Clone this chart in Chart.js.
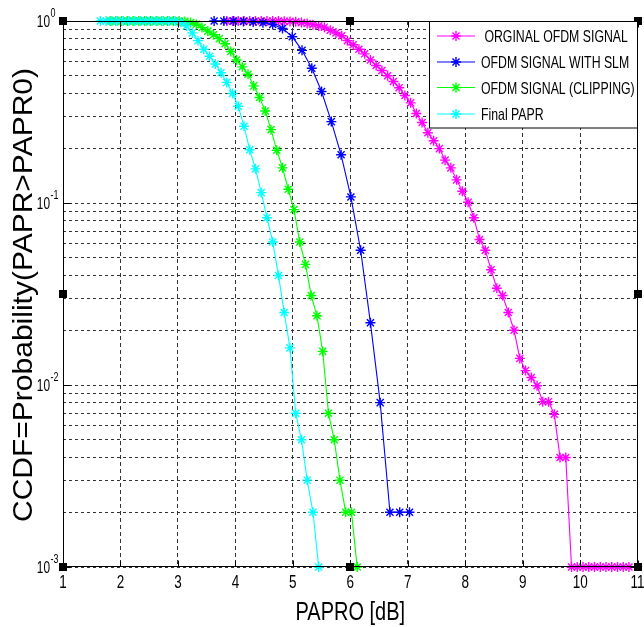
<!DOCTYPE html>
<html>
<head>
<meta charset="utf-8">
<script src="https://cdn.jsdelivr.net/npm/chart.js@4.4.1/dist/chart.umd.min.js"></script>
<style>
  html, body { margin: 0; padding: 0; background: #fff; }
  canvas { display: block; }
</style>
</head>
<body>
<canvas id="ccdf" width="644" height="627"></canvas>
<script>
/* CCDF of PAPR for the four OFDM variants, log y axis */

const xTicks = [1, 2, 3, 4, 5, 6, 7, 8, 9, 10, 11];
const yMajor = [0.001, 0.01, 0.1, 1];
const yMajorLabels = ['-3', '-2', '-1', '0'];
const yMinorDigits = [2, 3, 4, 5, 6, 7, 8, 9];

// ORGINAL OFDM SIGNAL
const origX = [3.85, 3.95, 4.05, 4.15, 4.25, 4.35, 4.45, 4.55, 4.65, 4.75, 4.85, 4.95, 5.05,
  5.15, 5.25, 5.35, 5.45, 5.55, 5.65, 5.75, 5.85, 5.95, 6.05, 6.15, 6.25, 6.35, 6.45, 6.55,
  6.65, 6.75, 6.85, 6.95, 7.05, 7.15, 7.25, 7.35, 7.45, 7.55, 7.65, 7.75, 7.85, 7.95, 8.05,
  8.15, 8.25, 8.35, 8.45, 8.55, 8.65, 8.75, 8.85, 8.95, 9.05, 9.15, 9.25, 9.35, 9.45, 9.55,
  9.65, 9.75, 9.85, 9.95, 10.05, 10.15, 10.25, 10.35, 10.45, 10.55, 10.65, 10.75, 10.85];
const origY = [1, 1, 1, 1, 1, 1, 1, 1, 1, 1, 0.997, 0.995, 0.99,
  0.98, 0.97, 0.955, 0.94, 0.925, 0.89, 0.86, 0.83, 0.78, 0.74, 0.70, 0.66, 0.61, 0.57, 0.535,
  0.50, 0.465, 0.43, 0.39, 0.355, 0.31, 0.277, 0.243, 0.22, 0.199, 0.172, 0.156, 0.134, 0.116, 0.101,
  0.083, 0.063, 0.055, 0.043, 0.034, 0.031, 0.025, 0.020, 0.014, 0.012, 0.011, 0.0099, 0.0081, 0.0081, 0.0069,
  0.004, 0.004, 0.001, 0.001, 0.001, 0.001, 0.001, 0.001, 0.001, 0.001, 0.001, 0.001, 0.001];

// OFDM SIGNAL WITH SLM
const slmX = [3.63, 3.80, 3.97, 4.14, 4.31, 4.48, 4.65, 4.82, 4.99, 5.16, 5.33, 5.50, 5.67,
  5.84, 6.01, 6.18, 6.35, 6.52, 6.69, 6.86, 7.03];
const slmY = [1, 1, 1, 0.995, 0.988, 0.978, 0.956, 0.91, 0.82, 0.69, 0.55, 0.41, 0.28,
  0.184, 0.108, 0.055, 0.022, 0.008, 0.002, 0.002, 0.002];

// OFDM SIGNAL (CLIPPING)
const clipX = [1.82, 1.92, 2.02, 2.12, 2.22, 2.32, 2.42, 2.52, 2.62, 2.72, 2.82, 2.92, 3.02, 3.12,
  3.22, 3.32, 3.42, 3.52, 3.62, 3.72, 3.82, 3.92, 4.02, 4.12, 4.22, 4.32, 4.42, 4.52, 4.62,
  4.72, 4.82, 4.92, 5.02, 5.12, 5.22, 5.32, 5.42, 5.52, 5.62, 5.72, 5.82, 5.92, 6.02, 6.12];
const clipY = [1, 1, 1, 1, 1, 1, 1, 1, 1, 1, 1, 1, 1, 0.995,
  0.98, 0.96, 0.92, 0.88, 0.84, 0.80, 0.75, 0.68, 0.61, 0.56, 0.51, 0.44, 0.38, 0.32, 0.253,
  0.195, 0.156, 0.119, 0.092, 0.061, 0.046, 0.031, 0.024, 0.0153, 0.007, 0.005, 0.003, 0.002, 0.002, 0.001];

// Final PAPR
const finalX = [1.65, 1.75, 1.85, 1.95, 2.05, 2.15, 2.25, 2.35, 2.45, 2.55, 2.65, 2.75, 2.85, 2.95,
  3.05, 3.15, 3.25, 3.35, 3.45, 3.55, 3.65, 3.75, 3.85, 3.95, 4.05, 4.15, 4.25, 4.35, 4.45,
  4.55, 4.65, 4.75, 4.85, 4.95, 5.05, 5.15, 5.25, 5.35, 5.45];
const finalY = [1, 1, 1, 1, 1, 1, 1, 1, 1, 1, 1, 1, 1, 1,
  0.98, 0.94, 0.86, 0.78, 0.70, 0.64, 0.58, 0.52, 0.46, 0.40, 0.34, 0.264, 0.196, 0.154, 0.114,
  0.083, 0.061, 0.040, 0.025, 0.016, 0.007, 0.005, 0.003, 0.002, 0.001];

const seriesNames = ['ORGINAL OFDM SIGNAL', 'OFDM SIGNAL WITH SLM', 'OFDM SIGNAL (CLIPPING)', 'Final PAPR'];
const seriesColors = ['#ff00ff', '#0000ff', '#00ff00', '#00ffff'];

const FONT = '"Liberation Sans", Arial, sans-serif';
const INK = '#000';

function pairs(xs, ys) {
  return xs.map((x, i) => ({ x: x, y: ys[i] }));
}

function makeSet(i, xs, ys) {
  return {
    label: seriesNames[i],
    data: pairs(xs, ys),
    borderColor: seriesColors[i],
    backgroundColor: seriesColors[i],
    borderWidth: 1.1,
    pointStyle: 'star',
    pointRadius: 5,
    pointBorderWidth: 1.4,
    pointBorderColor: seriesColors[i],
    tension: 0,
    fill: false,
    clip: false,
    order: 4 - i
  };
}

// text squeezed horizontally by sx
function drawText(ctx, str, x, y, size, sx, align) {
  ctx.save();
  ctx.font = size + 'px ' + FONT;
  ctx.textAlign = 'left';
  ctx.textBaseline = 'alphabetic';
  const w = ctx.measureText(str).width * sx;
  const x0 = align === 'center' ? x - w / 2 : (align === 'right' ? x - w : x);
  ctx.translate(x0, y);
  ctx.scale(sx, 1);
  ctx.fillText(str, 0, 0);
  ctx.restore();
}

function star(ctx, x, y, r) {
  const d = r * Math.SQRT1_2;
  ctx.beginPath();
  ctx.moveTo(x - r, y); ctx.lineTo(x + r, y);
  ctx.moveTo(x, y - r); ctx.lineTo(x, y + r);
  ctx.moveTo(x - d, y - d); ctx.lineTo(x + d, y + d);
  ctx.moveTo(x - d, y + d); ctx.lineTo(x + d, y - d);
  ctx.stroke();
}

const axesDecor = {
  id: 'axesDecor',
  afterDraw(chart) {
    const ctx = chart.ctx;
    const xs = chart.scales.x, ys = chart.scales.y;
    const a = chart.chartArea;
    const L = Math.round(a.left) + 0.5, R = Math.round(a.right) - 0.5;
    const T = Math.round(a.top) + 0.5, B = Math.round(a.bottom) - 0.5;

    ctx.save();
    ctx.strokeStyle = '#000';
    ctx.lineWidth = 1;
    ctx.strokeRect(L, T, R - L, B - T);

    // inner tick marks
    ctx.beginPath();
    xTicks.forEach(v => {
      const px = Math.round(xs.getPixelForValue(v)) + 0.5;
      ctx.moveTo(px, B); ctx.lineTo(px, B - 6);
      ctx.moveTo(px, T); ctx.lineTo(px, T + 6);
    });
    yMajor.forEach(v => {
      const py = Math.round(ys.getPixelForValue(v)) + 0.5;
      ctx.moveTo(L, py); ctx.lineTo(L + 7, py);
      ctx.moveTo(R, py); ctx.lineTo(R - 7, py);
    });
    ctx.stroke();

    // tick labels
    ctx.fillStyle = INK;
    xTicks.forEach(v => {
      drawText(ctx, String(v), xs.getPixelForValue(v), 588, 18, 0.75, 'center');
    });
    yMajor.forEach((v, i) => {
      const py = ys.getPixelForValue(v);
      drawText(ctx, '10', 50, py + 6, 16.5, 0.72, 'right');
      drawText(ctx, yMajorLabels[i], 50.5, py - 4.5, 12, 0.75, 'left');
    });

    // axis titles
    drawText(ctx, 'PAPRO [dB]', (a.left + a.right) / 2, 620, 25, 0.8, 'center');
    ctx.save();
    ctx.font = '28px ' + FONT;
    const yTitle = 'CCDF=Probability(PAPR>PAPR0)';
    const sy = 454 / ctx.measureText(yTitle).width;
    ctx.translate(31.5, 295);
    ctx.rotate(-Math.PI / 2);
    ctx.scale(sy, 1);
    ctx.textAlign = 'center';
    ctx.fillText(yTitle, 0, 0);
    ctx.restore();

    // selection handles on the axes box
    const midX = xs.getPixelForValue(6);
    const midY = (a.top + a.bottom) / 2;
    [[a.left, a.top], [midX, a.top], [a.right, a.top], [a.left, midY], [a.right, midY],
     [a.left, a.bottom], [midX, a.bottom], [a.right, a.bottom]].forEach(p => {
      ctx.fillStyle = '#000';
      ctx.fillRect(Math.round(p[0]) - 4, Math.round(p[1]) - 4, 8, 8);
    });

    // legend box
    const lx = 429.5, ly = 21.5, lw = R - lx, lh = 106.5;
    ctx.fillStyle = '#fff';
    ctx.fillRect(lx, ly, lw, lh);
    ctx.strokeStyle = '#000';
    ctx.strokeRect(lx, ly, lw, lh);
    const rows = [36, 62, 87.5, 114];
    seriesNames.forEach((name, i) => {
      const ry = rows[i];
      ctx.strokeStyle = seriesColors[i];
      ctx.lineWidth = 1.2;
      ctx.beginPath();
      ctx.moveTo(437, ry); ctx.lineTo(475, ry);
      ctx.stroke();
      ctx.lineWidth = 1.4;
      star(ctx, 456, ry, 5);
      ctx.fillStyle = INK;
      drawText(ctx, (i === 0 ? ' ' : '') + name, 481, ry + 6, 16.5, 0.745, 'left');
    });
    ctx.restore();
  }
};

const gridColor = '#333';

new Chart(document.getElementById('ccdf').getContext('2d'), {
  type: 'line',
  data: {
    datasets: [
      makeSet(0, origX, origY),
      makeSet(1, slmX, slmY),
      makeSet(2, clipX, clipY),
      makeSet(3, finalX, finalY)
    ]
  },
  options: {
    responsive: false,
    animation: false,
    devicePixelRatio: 1,
    layout: { padding: { left: 63, top: 21, right: 3, bottom: 60 } },
    plugins: { legend: { display: false }, tooltip: { enabled: false } },
    scales: {
      x: {
        type: 'linear',
        min: 1,
        max: 11,
        afterBuildTicks: s => { s.ticks = xTicks.map(v => ({ value: v })); },
        ticks: { display: false },
        grid: { color: gridColor, lineWidth: 1, drawTicks: false },
        border: { display: false, dash: [4, 3] }
      },
      y: {
        type: 'logarithmic',
        min: 0.001,
        max: 1,
        afterBuildTicks: s => {
          const vals = [];
          yMajor.forEach((m, i) => {
            vals.push(m);
            if (i < yMajor.length - 1) yMinorDigits.forEach(d => vals.push(+(m * d).toPrecision(3)));
          });
          s.ticks = vals.map(v => ({ value: v }));
        },
        ticks: { display: false },
        grid: { color: gridColor, lineWidth: 1, drawTicks: false },
        border: { display: false, dash: [3, 3] }
      }
    }
  },
  plugins: [axesDecor]
});
</script>
</body>
</html>
